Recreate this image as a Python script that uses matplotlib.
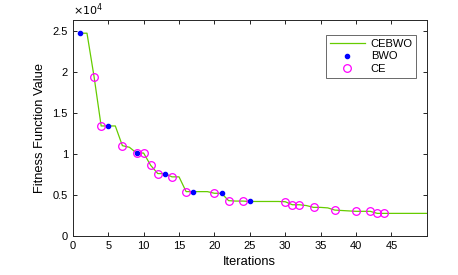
import numpy as np
import matplotlib
matplotlib.use("Agg")
import matplotlib.pyplot as plt
from matplotlib.ticker import FuncFormatter

plt.rcParams["font.family"] = ["Liberation Sans", "DejaVu Sans"]

# best fitness per iteration (CEBWO)
iters = list(range(1, 51))
cebwo = [24700, 24700, 19400, 13400, 13400, 13400, 11000, 10800, 10100, 10100,
         8600, 7600, 7600, 7200, 7200, 5400, 5400, 5400, 5400, 5200,
         5200, 4300, 4250, 4250, 4200, 4200, 4200, 4200, 4200, 4170,
         3800, 3800, 3700, 3480, 3480, 3420, 3150, 3100, 3050, 3000,
         3000, 3000, 2750, 2750, 2750, 2750, 2750, 2750, 2750, 2750]

bwo_x = [1, 5, 9, 13, 17, 21, 25]
bwo_y = [24700, 13400, 10100, 7600, 5400, 5200, 4200]

ce_x = [3, 4, 7, 9, 10, 11, 12, 14, 16, 20, 22, 24, 30, 31, 32, 34, 37, 40, 42, 43, 44]
ce_y = [19400, 13400, 11000, 10100, 10100, 8600, 7600, 7200, 5400, 5200, 4300, 4250,
        4170, 3800, 3800, 3480, 3150, 3000, 3000, 2750, 2750]

fig = plt.figure(figsize=(4.58, 2.75), dpi=100)
ax = fig.add_axes([0.159, 0.142, 0.773, 0.785])

ax.plot(iters, cebwo, color="#66cc00", lw=0.9, label="CEBWO")
ax.plot(bwo_x, bwo_y, "o", color="#0000ff", ms=3, ls="none", label="BWO")
ax.plot(ce_x, ce_y, "o", mfc="none", mec="#ff00ff", mew=0.9, ms=5.5, ls="none", label="CE")

ax.set_xlim(0, 50)
ax.set_ylim(0, 26300)
ax.set_xticks(range(0, 50, 5))
ax.set_yticks([0, 5000, 10000, 15000, 20000, 25000])
ax.yaxis.set_major_formatter(FuncFormatter(lambda v, p: f"{v / 1e4:g}"))
ax.text(0.0, 1.01, r"$\times10^4$", transform=ax.transAxes, fontsize=8, va="bottom", ha="left")
ax.tick_params(direction="in", top=True, right=True, labelsize=8, length=3, width=0.6)
for s in ax.spines.values():
    s.set_linewidth(0.7)
    s.set_color("#262626")

ax.set_xlabel("Iterations", fontsize=9.3, labelpad=4)
ax.set_ylabel("Fitness Function Value", fontsize=9.3, labelpad=5)

leg = ax.legend(loc="upper right", bbox_to_anchor=(0.985, 0.955), fontsize=8,
                frameon=True, fancybox=False, edgecolor="#262626",
                handlelength=3.2, borderpad=0.3, labelspacing=0.25, handletextpad=0.5)
leg.get_frame().set_linewidth(0.6)

fig.savefig("out.png", dpi=100)
